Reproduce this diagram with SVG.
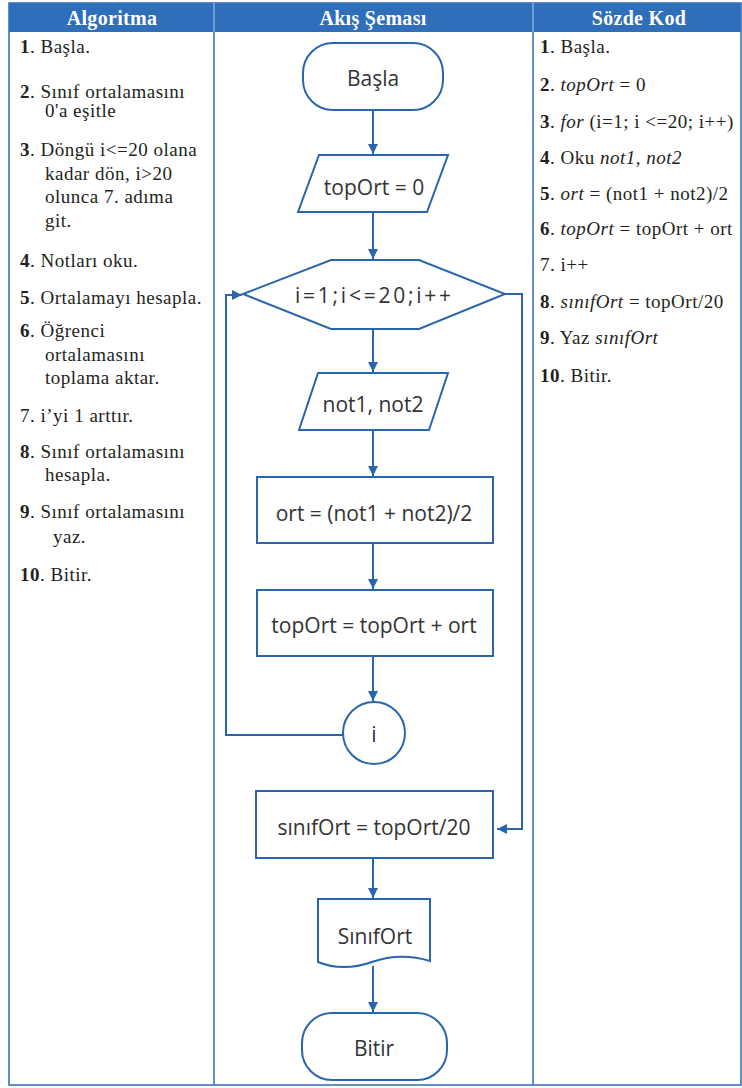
<svg xmlns="http://www.w3.org/2000/svg" width="742" height="1088" viewBox="0 0 742 1088">
<defs>
<style>
.hdr{fill:#ffffff;font-family:"Liberation Serif",serif;font-weight:bold;font-size:20px;letter-spacing:0.3px;text-anchor:middle}
.tx{fill:#231f20;font-family:"Liberation Serif",serif;font-size:19px;letter-spacing:0.5px}
.b{font-weight:bold}
.it{font-style:italic}
.shape{fill:#ffffff;stroke:#2a66ad;stroke-width:2}
.lbl{fill:#333333;font-family:"Open Sans","Noto Sans",sans-serif;font-size:21px;text-anchor:middle}
.con{fill:none;stroke:#2a66ad;stroke-width:2}
.grid{fill:none;stroke:#3a74b8;stroke-width:1.6}
</style>
<marker id="ah" viewBox="0 0 10 10" refX="10" refY="5" markerWidth="10" markerHeight="10" markerUnits="userSpaceOnUse" orient="auto">
<path d="M0,0 L10,5 L0,10 Z" fill="#2a66ad"/>
</marker>
</defs>
<rect width="742" height="1088" fill="#ffffff"/>
<g id="table">
<rect x="9" y="3" width="732" height="29" fill="#2f6eb8"/>
<rect class="grid" x="9" y="3" width="732" height="1082"/>
<line class="grid" x1="214" y1="32" x2="214" y2="1085"/>
<line class="grid" x1="533" y1="32" x2="533" y2="1085"/>
<line x1="214" y1="3" x2="214" y2="32" stroke="#9dbde3" stroke-width="1.2"/>
<line x1="533" y1="3" x2="533" y2="32" stroke="#9dbde3" stroke-width="1.2"/>
<text class="hdr" x="112" y="25">Algoritma</text>
<text class="hdr" x="373" y="25">Akış Şeması</text>
<text class="hdr" x="639" y="25">Sözde Kod</text>
</g>
<g id="algoritma">
<text class="tx" x="20" y="53"><tspan class="b">1</tspan>. Başla.</text>
<text class="tx" x="20" y="98"><tspan class="b">2</tspan>. Sınıf ortalamasını</text>
<text class="tx" x="45" y="117">0'a eşitle</text>
<text class="tx" x="20" y="156"><tspan class="b">3</tspan>. Döngü i&lt;=20 olana</text>
<text class="tx" x="45" y="180">kadar dön, i&gt;20</text>
<text class="tx" x="45" y="203">olunca 7. adıma</text>
<text class="tx" x="45" y="227">git.</text>
<text class="tx" x="20" y="267"><tspan class="b">4</tspan>. Notları oku.</text>
<text class="tx" x="20" y="304"><tspan class="b">5</tspan>. Ortalamayı hesapla.</text>
<text class="tx" x="20" y="337"><tspan class="b">6</tspan>. Öğrenci</text>
<text class="tx" x="45" y="361">ortalamasını</text>
<text class="tx" x="45" y="384">toplama aktar.</text>
<text class="tx" x="20" y="422">7. i’yi 1 arttır.</text>
<text class="tx" x="20" y="458"><tspan class="b">8</tspan>. Sınıf ortalamasını</text>
<text class="tx" x="45" y="481">hesapla.</text>
<text class="tx" x="20" y="518"><tspan class="b">9</tspan>. Sınıf ortalamasını</text>
<text class="tx" x="53" y="543">yaz.</text>
<text class="tx" x="20" y="581"><tspan class="b">10</tspan>. Bitir.</text>
</g>
<g id="sozde-kod">
<text class="tx" x="540" y="53"><tspan class="b">1</tspan>. Başla.</text>
<text class="tx" x="540" y="91"><tspan class="b">2</tspan>. <tspan class="it">topOrt</tspan> = 0</text>
<text class="tx" x="540" y="128" letter-spacing="0.2"><tspan class="b">3</tspan>. <tspan class="it">for</tspan> (i=1; i &lt;=20; i++)</text>
<text class="tx" x="540" y="164"><tspan class="b">4</tspan>. Oku <tspan class="it">not1, not2</tspan></text>
<text class="tx" x="540" y="200"><tspan class="b">5</tspan>. <tspan class="it">ort</tspan> = (not1 + not2)/2</text>
<text class="tx" x="540" y="235"><tspan class="b">6</tspan>. <tspan class="it">topOrt</tspan> = topOrt + ort</text>
<text class="tx" x="540" y="271">7. i++</text>
<text class="tx" x="540" y="308"><tspan class="b">8</tspan>. <tspan class="it">sınıfOrt</tspan> = topOrt/20</text>
<text class="tx" x="540" y="344"><tspan class="b">9</tspan>. Yaz <tspan class="it">sınıfOrt</tspan></text>
<text class="tx" x="540" y="382"><tspan class="b">10</tspan>. Bitir.</text>
</g>
<g id="connectors">
<line class="con" x1="373" y1="111" x2="373" y2="154" marker-end="url(#ah)"/>
<line class="con" x1="373" y1="212" x2="373" y2="259" marker-end="url(#ah)"/>
<line class="con" x1="373" y1="329" x2="373" y2="372" marker-end="url(#ah)"/>
<line class="con" x1="373" y1="430" x2="373" y2="476" marker-end="url(#ah)"/>
<line class="con" x1="373" y1="543" x2="373" y2="589" marker-end="url(#ah)"/>
<line class="con" x1="373" y1="656" x2="373" y2="701" marker-end="url(#ah)"/>
<polyline class="con" points="344,735 226,735 226,295 242,295" marker-end="url(#ah)"/>
<polyline class="con" points="505,294 522,294 522,829 497,829" marker-end="url(#ah)"/>
<line class="con" x1="373" y1="858" x2="373" y2="898" marker-end="url(#ah)"/>
<line class="con" x1="373" y1="966" x2="373" y2="1012" marker-end="url(#ah)"/>
</g>
<g id="basla">
<rect class="shape" x="303" y="43" width="140" height="67" rx="30" ry="30"/>
<text class="lbl" x="373" y="86">Başla</text>
</g>
<g id="topOrt0">
<polygon class="shape" points="319,155 448,155 427,212 298,212"/>
<text class="lbl" x="374" y="195">topOrt = 0</text>
</g>
<g id="dongu">
<polygon class="shape" points="243,294 331,260 419,260 505,294 419,329 331,329"/>
<text class="lbl" x="373" y="303" textLength="156" lengthAdjust="spacing">i=1;i&lt;=20;i++</text>
</g>
<g id="oku">
<polygon class="shape" points="318,373 448,373 429,430 299,430"/>
<text class="lbl" x="373" y="412">not1, not2</text>
</g>
<g id="ort">
<rect class="shape" x="257" y="477" width="236" height="66"/>
<text class="lbl" x="374" y="521">ort = (not1 + not2)/2</text>
</g>
<g id="topOrtToplam">
<rect class="shape" x="257" y="590" width="236" height="66"/>
<text class="lbl" x="374" y="633">topOrt = topOrt + ort</text>
</g>
<g id="i">
<circle class="shape" cx="374" cy="733" r="31"/>
<text class="lbl" x="374" y="742">i</text>
</g>
<g id="sinifOrt">
<rect class="shape" x="256" y="791" width="237" height="67"/>
<text class="lbl" x="374" y="835">sınıfOrt = topOrt/20</text>
</g>
<g id="yaz">
<path class="shape" d="M318,899 H430 V961 C410,955 392,955 372,962 C352,969 335,969 318,962 Z"/>
<text class="lbl" x="375" y="944">SınıfOrt</text>
</g>
<g id="bitir">
<rect class="shape" x="302" y="1013" width="145" height="67" rx="30" ry="30"/>
<text class="lbl" x="374" y="1056">Bitir</text>
</g>
</svg>
